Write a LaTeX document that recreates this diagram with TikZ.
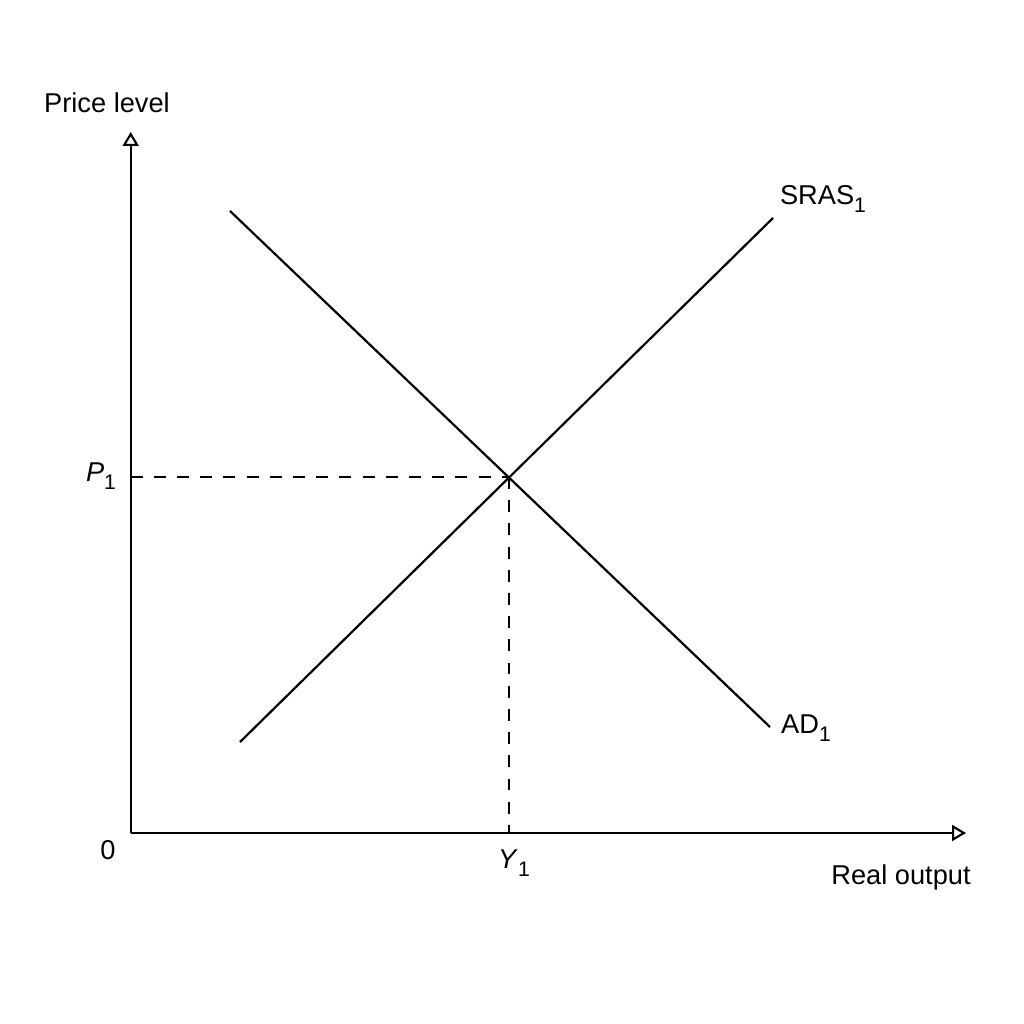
\documentclass[tikz,border=0pt]{standalone}
\usepackage{fontspec}
\setmainfont{Liberation Sans}
\usetikzlibrary{positioning}
\usetikzlibrary{arrows.meta}
\newcommand{\lowsub}[1]{\raisebox{-0.55ex}{\fontsize{12}{12}\selectfont #1}}
\tikzset{axis line/.style={line width=1.3pt,-{Triangle[open,length=0.28cm,width=0.32cm,line width=1.2pt]}},
  curve line/.style={line width=1.25pt},
  guide line/.style={line width=1.2pt,dash pattern=on 6.8pt off 6.4pt},
  lbl/.style={font=\fontsize{15.5}{18}\selectfont,inner sep=0pt}}

\begin{document}
\begin{tikzpicture}[x=0.02cm,y=-0.02cm]
\useasboundingbox (0,0) rectangle (1024,1024);

  \coordinate (O) at (130.7,833);
  \coordinate (ytip) at (130.7,132);
  \coordinate (xtip) at (966,833);

  \coordinate (ad a) at (230,211);
  \coordinate (ad b) at (770,727);
  \coordinate (sras a) at (240,742);
  \coordinate (sras b) at (773,218);
  \coordinate (E) at (509,477);
  \coordinate (Pax) at (130.7,477);
  \coordinate (Yax) at (509,833);

  \draw[axis line] (O) -- (ytip);
  \draw[axis line] (O) -- (xtip);

  \draw[curve line] (ad a) -- (ad b);
  \draw[curve line] (sras a) -- (sras b);

  \draw[guide line] (Pax) -- (E);
  \draw[guide line] (E) -- (Yax);

  \node[lbl] (pl) at (107,103) {Price level};
  \node[lbl] (ro) at (901,877) {Real output};
  \node[lbl] (zero) at (108,850) {0};
  \node[lbl] (p1) at (101,476) {\textit{P\/}\lowsub{1}};
  \node[lbl] (y1) at (514,863) {\textit{Y\/}\lowsub{1}};
  \node[lbl] (sras) at (823,199) {SRAS\lowsub{1}};
  \node[lbl] (ad) at (806,728) {AD\lowsub{1}};
\end{tikzpicture}
\end{document}
